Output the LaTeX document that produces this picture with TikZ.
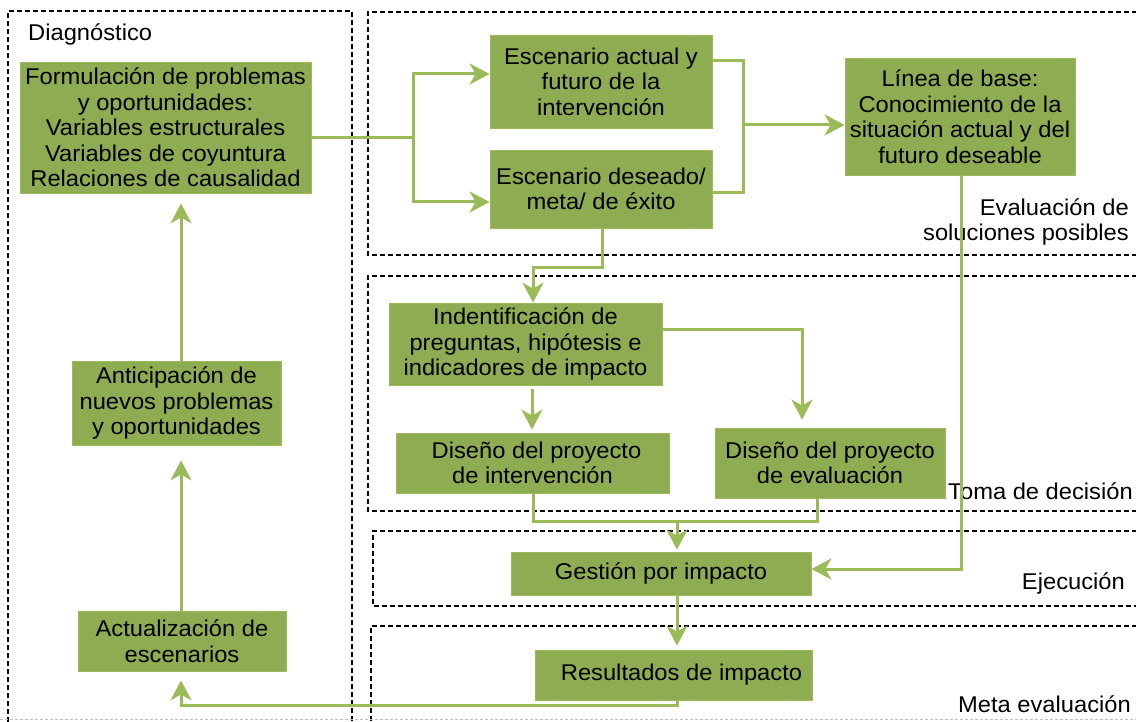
\documentclass[tikz,border=0pt]{standalone}
\usepackage{fontspec}
\setmainfont{Liberation Sans}[FakeStretch=1.04]
\usetikzlibrary{arrows.meta}
\definecolor{boxgreen}{RGB}{142,172,82}
\definecolor{linegreen}{RGB}{155,187,89}
\tikzset{
  box/.style={fill=boxgreen, draw=linegreen, line width=0.8pt, inner sep=0pt, align=center,
    font=\fontsize{22.8}{25.5}\selectfont, text=black},
  lbl/.style={inner sep=0pt, font=\fontsize{22.8}{25.5}\selectfont, text=black},
  conn/.style={draw=linegreen, line width=3pt},
  arr/.style={conn, -{Stealth[length=20pt,width=21pt,inset=6pt]}},
  dsh/.style={draw=black, line width=2pt, dash pattern=on 5pt off 3pt},
}
\begin{document}
\begin{tikzpicture}[x=1pt,y=-1pt]
\useasboundingbox (0,0) rectangle (1136,722);
\clip (0,0) rectangle (1136,722);
% dashed regions
\draw[dsh] (8,730) -- (8,11) -- (352,11) -- (352,730);
\draw[dsh] (1145,12) -- (368,12) -- (368,255) -- (1145,255);
\draw[dsh] (1145,276) -- (368,276) -- (368,511) -- (1145,511);
\draw[dsh] (1145,531) -- (373,531) -- (373,606) -- (1145,606);
\draw[dsh] (1145,626) -- (371,626) -- (371,730);
\draw[draw=black!25, line width=1pt, dash pattern=on 3pt off 2pt] (0,719) -- (1136,719);

% labels
\node[lbl, anchor=west] (diag) at (28,34) {Diagnóstico};
\node[lbl, anchor=east, align=right] (evl) at (1129,222) {Evaluación de\\soluciones posibles};
\node[lbl, anchor=west] (toma) at (948,491) {Toma de decisión};
\node[lbl, anchor=east] (ejec) at (1125,583) {Ejecución};
\node[lbl, anchor=east] (meta) at (1131,704) {Meta evaluación};

% boxes
\node[box, minimum width=291pt, minimum height=131pt] (form) at (165.5,127.5)
  {Formulación de problemas\\y oportunidades:\\Variables estructurales\\Variables de coyuntura\\Relaciones de causalidad};
\node[box, minimum width=222pt, minimum height=93pt] (esa) at (601,81.5)
  {Escenario actual y\\futuro de la\\intervención};
\node[box, minimum width=222pt, minimum height=78pt] (esd) at (601,189)
  {Escenario deseado/\\meta/ de éxito};
\node[box, minimum width=230pt, minimum height=117pt] (lin) at (960,116.5)
  {Línea de base:\\Conocimiento de la\\situación actual y del\\futuro deseable};
\node[box, minimum width=273pt, minimum height=82pt] (ind) at (525.5,344)
  {Indentificación de\\preguntas, hipótesis e\\indicadores de impacto};
\node[box, minimum width=273pt, minimum height=60pt] (dint) at (532.5,463)
  {\hspace*{8pt}Diseño del proyecto\\de intervención};
\node[box, minimum width=230pt, minimum height=70pt] (deva) at (830,463)
  {Diseño del proyecto\\de evaluación};
\node[box, minimum width=300pt, minimum height=43pt] (ges) at (661,573.5)
  {Gestión por impacto};
\node[box, minimum width=277pt, minimum height=50pt] (res) at (673.5,675)
  {\hspace*{16pt}Resultados de impacto};
\node[box, minimum width=209pt, minimum height=84pt] (ant) at (176.5,403)
  {Anticipación de\\nuevos problemas\\y oportunidades};
\node[box, minimum width=208pt, minimum height=60pt] (act) at (182,641)
  {Actualización de\\escenarios};

% junction coordinates
\coordinate (j1) at (413,138);
\coordinate (ja) at (413,74);
\coordinate (jb) at (413,202);
\coordinate (k1) at (743,61);
\coordinate (k2) at (743,193);
\coordinate (j2) at (743,125);
\coordinate (m1) at (602,268);
\coordinate (m2) at (533,268);
\coordinate (n1) at (802,329);
\coordinate (p1) at (532,400);
\coordinate (q1) at (533,521);
\coordinate (q2) at (817,521);
\coordinate (q3) at (677,521);
\coordinate (r1) at (961,569);
\coordinate (s1) at (677,705);
\coordinate (s2) at (181,705);

% connectors
\draw[conn] (form.east |- j1) -- (j1);
\draw[arr] (j1) |- (esa.west |- ja);
\draw[arr] (j1) |- (esd.west |- jb);
\draw[conn] (esa.east |- k1) -- (k1) -- (k2) -- (esd.east |- k2);
\draw[arr] (j2) -- (lin.west |- j2);
\draw[arr] (esd.south -| m1) -- (m1) -- (m2) -- (ind.north -| m2);
\draw[arr, shorten >=8pt] (ind.east |- n1) -- (n1) -- (deva.north -| n1);
\draw[arr, shorten <=4pt, shorten >=3pt] (ind.south -| p1) -- (dint.north -| p1);
\draw[conn] (dint.south -| q1) -- (q1) -- (q2) -- (deva.south -| q2);
\draw[arr, shorten >=2pt] (q3) -- (ges.north -| q3);
\draw[arr] (lin.south -| r1) -- (r1) -- (ges.east |- r1);
\draw[arr, shorten >=4pt] (ges.south -| q3) -- (res.north -| q3);
\draw[arr, shorten >=9pt] (res.south -| s1) -- (s1) -- (s2) -- (act.south -| s2);
\draw[arr, shorten >=15pt] (act.north -| s2) -- (ant.south -| s2);
\draw[arr, shorten >=10pt] (ant.north -| s2) -- (form.south -| s2);
\end{tikzpicture}
\end{document}
